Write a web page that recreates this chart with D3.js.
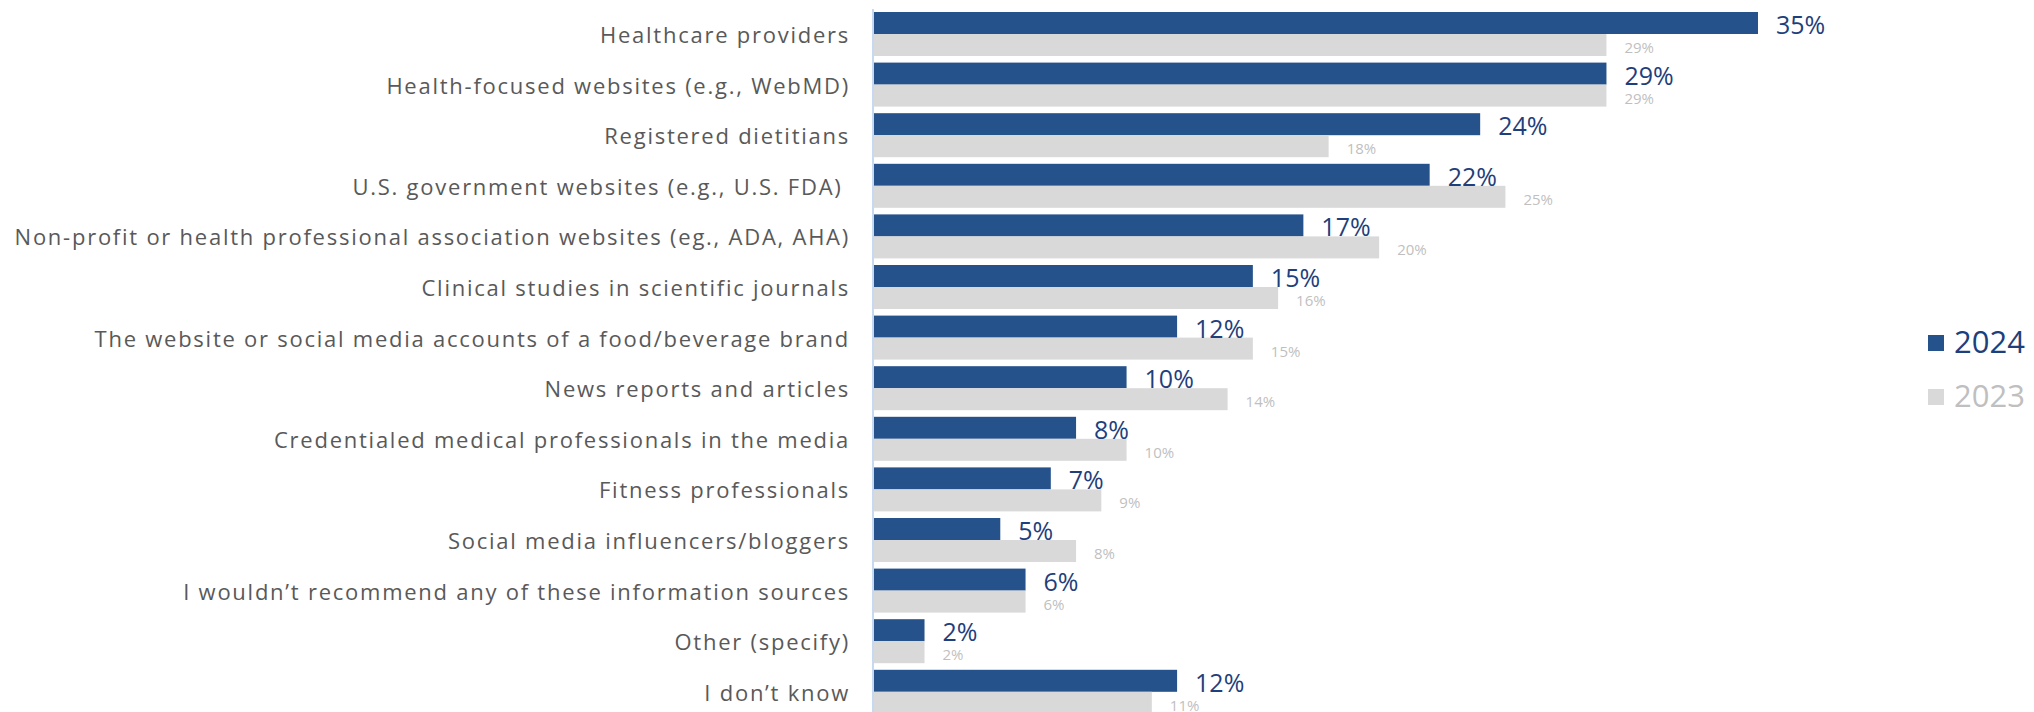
<!DOCTYPE html>
<html>
<head>
<meta charset="utf-8">
<script src="https://cdn.jsdelivr.net/npm/d3@7"></script>
<style>
  html, body { margin: 0; padding: 0; background: #ffffff; }
  svg { display: block; font-family: "Open Sans", "Noto Sans", sans-serif; }
</style>
</head>
<body>
<svg id="chart" width="2034" height="712"></svg>
<script>
// Information sources, survey results for two years (percent of respondents)
const categories = [
  "Healthcare providers",
  "Health-focused websites (e.g., WebMD)",
  "Registered dietitians",
  "U.S. government websites (e.g., U.S. FDA)\u00a0",
  "Non-profit or health professional association websites (eg., ADA, AHA)",
  "Clinical studies in scientific journals",
  "The website or social media accounts of a food/beverage brand",
  "News reports and articles",
  "Credentialed medical professionals in the media",
  "Fitness professionals",
  "Social media influencers/bloggers",
  "I wouldn\u2019t recommend any of these information sources",
  "Other (specify)",
  "I don\u2019t know"
];
const values2024 = [35, 29, 24, 22, 17, 15, 12, 10, 8, 7, 5, 6, 2, 12];
const values2023 = [29, 29, 18, 25, 20, 16, 15, 14, 10, 9, 8, 6, 2, 11];
const seriesNames = ["2024", "2023"];

const colors = { "2024": "#25528a", "2023": "#d9d9d9" };
const labelColors = { "2024": "#1f3f7c", "2023": "#bfbfbf" };

const svg = d3.select("#chart");

const x = d3.scaleLinear().domain([0, 35]).range([874, 1758]);
const y = d3.scaleBand()
  .domain(categories)
  .range([12, 713.8])
  .paddingInner(0.1304)
  .paddingOuter(0)
  .align(0);
const ySub = d3.scaleBand().domain(seriesNames).range([0, y.bandwidth()]).padding(0);

const rows = categories.map((c, i) => ({
  cat: c,
  vals: [
    { s: "2024", v: values2024[i] },
    { s: "2023", v: values2023[i] }
  ]
}));

// Bars
const groups = svg.append("g").selectAll("g")
  .data(rows)
  .join("g")
  .attr("transform", d => `translate(0,${y(d.cat)})`);

groups.selectAll("rect")
  .data(d => d.vals)
  .join("rect")
  .attr("x", x(0))
  .attr("y", d => ySub(d.s))
  .attr("width", d => x(d.v) - x(0))
  .attr("height", ySub.bandwidth())
  .attr("fill", d => colors[d.s]);

// Value labels
groups.selectAll("text")
  .data(d => d.vals)
  .join("text")
  .attr("x", d => x(d.v) + 18)
  .attr("y", d => d.s === "2024" ? ySub(d.s) + ySub.bandwidth() : ySub(d.s) + ySub.bandwidth() - 3)
  .attr("fill", d => labelColors[d.s])
  .attr("font-size", d => d.s === "2024" ? 25 : 15)
  .text(d => d.v + "%");

// Category axis
const axis = svg.append("g")
  .attr("transform", `translate(${x(0) - 1},0)`)
  .call(d3.axisLeft(y).tickSize(0).tickPadding(23));
axis.select(".domain")
  .attr("stroke", "#c6d9f1")
  .attr("stroke-width", 2)
  .attr("d", "M0,9V712");
const tickText = axis.selectAll(".tick text")
  .attr("font-family", "\"Open Sans\", sans-serif")
  .attr("font-size", 22)
  .attr("fill", "#595959")
  .attr("dy", "9px")
  .style("white-space", "pre");

// widen spacing so the longest label spans its column
let maxW = 0, maxN = 1;
tickText.each(function() {
  const w = this.getComputedTextLength();
  if (w > maxW) { maxW = w; maxN = this.textContent.length; }
});
const spacing = Math.max(0, (834 - maxW) / (maxN - 1));
tickText.attr("letter-spacing", spacing.toFixed(2) + "px");

// Legend
const legend = svg.append("g").selectAll("g")
  .data(seriesNames)
  .join("g")
  .attr("transform", (d, i) => `translate(1928,${335 + i * 54})`);
legend.append("rect")
  .attr("width", 16).attr("height", 16)
  .attr("fill", d => colors[d]);
legend.append("text")
  .attr("x", 26).attr("y", 18)
  .attr("font-size", 31)
  .attr("fill", d => d === "2024" ? labelColors["2024"] : "#bfbfbf")
  .text(d => d);
</script>
</body>
</html>
